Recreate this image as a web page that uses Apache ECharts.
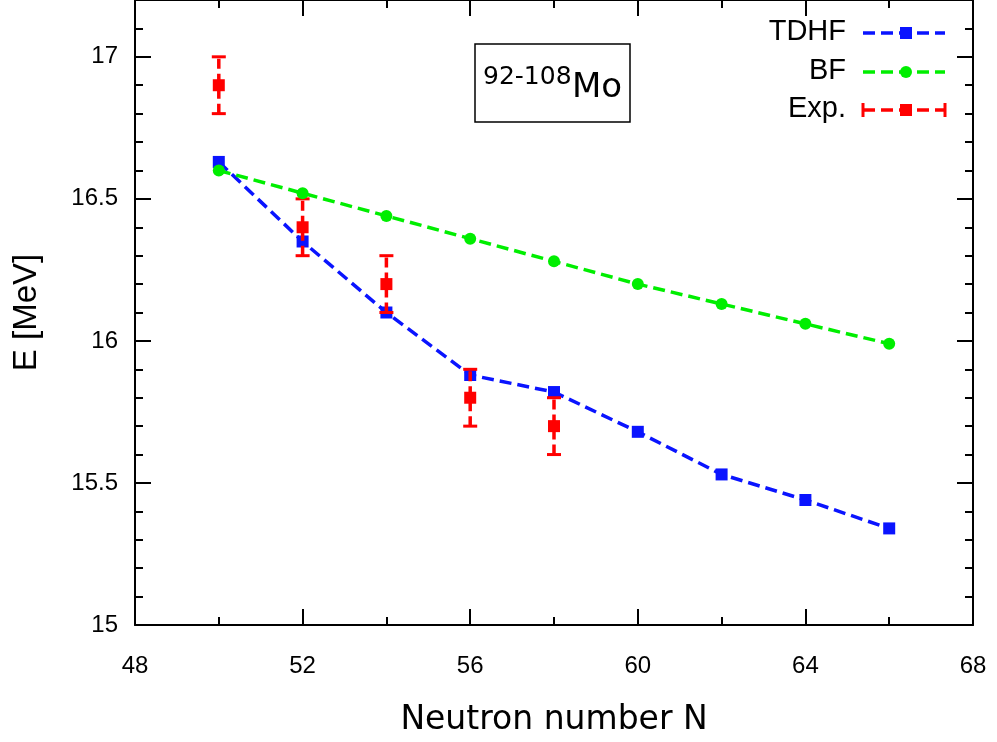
<!DOCTYPE html>
<html>
<head>
<meta charset="utf-8">
<script src="https://cdn.jsdelivr.net/npm/echarts@6/dist/echarts.min.js"></script>
<style>
html,body{margin:0;padding:0;background:#fff;}
#chart{width:997px;height:742px;}
</style>
</head>
<body>
<div id="chart"></div>
<script>
// ---- data ----
var neutronN = [50, 52, 54, 56, 58, 60, 62, 64, 66];
var tdhfE = [16.63, 16.35, 16.10, 15.88, 15.82, 15.68, 15.53, 15.44, 15.34];
var bfE = [16.60, 16.52, 16.44, 16.36, 16.28, 16.20, 16.13, 16.06, 15.99];
var expN = [50, 52, 54, 56, 58];
var expE = [16.9, 16.4, 16.2, 15.8, 15.7];
var expErr = [0.1, 0.1, 0.1, 0.1, 0.1];
var seriesNames = ['TDHF', 'BF', 'Exp.'];
var xTitle = 'Neutron number N';
var yTitle = 'E [MeV]';
var labelSup = '92-108';
var labelEl = 'Mo';

var BLUE = '#0a14ff', GREEN = '#00ee00', RED = '#ff0000';
var DASH = [12, 6];
var LW = 3.5;
var tickFont = 'Liberation Sans, Arial, sans-serif';

function pairs(xs, ys){ return xs.map(function(x,i){ return [x, ys[i]]; }); }
var expBars = expN.map(function(x,i){ return [x, expE[i]-expErr[i], expE[i]+expErr[i]]; });

var chart = echarts.init(document.getElementById('chart'), null, {renderer:'canvas'});

var axisLine = {show:true, lineStyle:{color:'#000', width:2}};
function xAx(pos, labels){
  return {
    type:'value', position:pos, min:48, max:68, interval:4,
    axisLine:axisLine,
    axisTick:{show:true, inside:true, length:16, lineStyle:{color:'#000', width:2}},
    minorTick:{show:true, splitNumber:2, length:8, lineStyle:{color:'#000', width:2}},
    splitLine:{show:false}, minorSplitLine:{show:false},
    axisLabel:{show:labels, margin:29, color:'#000', fontSize:24, fontFamily:tickFont},
    name: labels ? xTitle : '',
    nameLocation:'middle', nameGap:79,
    nameTextStyle:{color:'#000', fontSize:33, fontFamily:'DejaVu Sans'}
  };
}
function yMajor(pos, labels){
  return {
    type:'value', position:pos, min:15, max:17.2, interval:0.5,
    axisLine:axisLine,
    axisTick:{show:true, inside:true, length:16, lineStyle:{color:'#000', width:2}},
    splitLine:{show:false},
    axisLabel:{show:labels, margin:17, color:'#000', fontSize:24, fontFamily:tickFont, showMaxLabel:false},
    name: labels ? yTitle : '',
    nameLocation:'middle', nameGap:92,
    nameTextStyle:{color:'#000', fontSize:33, fontFamily:tickFont}
  };
}
function yMinor(pos){
  return {
    type:'value', position:pos, min:15, max:17.2, interval:0.1,
    axisLine:{show:false},
    axisTick:{show:true, inside:true, length:8, lineStyle:{color:'#000', width:2}},
    splitLine:{show:false},
    axisLabel:{show:false}
  };
}

var legendRows = [
  {name:seriesNames[0], y:33, color:BLUE, sym:'rect'},
  {name:seriesNames[1], y:72, color:GREEN, sym:'circle'},
  {name:seriesNames[2], y:110, color:RED, sym:'rect', caps:true}
];
var legendGraphics = [];
legendRows.forEach(function(r){
  legendGraphics.push({type:'text', right:997-846, top:r.y-16, z:100,
    style:{text:r.name, font:'29px Liberation Sans', fill:'#000', textAlign:'right'}});
  legendGraphics.push({type:'line', z:100, shape:{x1:863, y1:r.y, x2:945, y2:r.y},
    style:{stroke:r.color, lineWidth:LW, lineDash:DASH}});
  if (r.caps){
    legendGraphics.push({type:'line', z:100, shape:{x1:863, y1:r.y-7, x2:863, y2:r.y+7}, style:{stroke:r.color, lineWidth:3}});
    legendGraphics.push({type:'line', z:100, shape:{x1:945, y1:r.y-7, x2:945, y2:r.y+7}, style:{stroke:r.color, lineWidth:3}});
  }
  if (r.sym === 'rect'){
    legendGraphics.push({type:'rect', z:101, shape:{x:906-6, y:r.y-6, width:12, height:12}, style:{fill:r.color}});
  } else {
    legendGraphics.push({type:'circle', z:101, shape:{cx:906, cy:r.y, r:6}, style:{fill:r.color}});
  }
});

var option = {
  backgroundColor:'#fff',
  animation:false,
  grid:{left:135, right:24, top:-3, bottom:117, containLabel:false},
  xAxis:[xAx('bottom', true), xAx('top', false)],
  yAxis:[yMajor('left', true), yMajor('right', false), yMinor('left'), yMinor('right')],
  graphic: legendGraphics.concat([
    {type:'rect', z:100, shape:{x:475, y:44, width:155, height:78}, style:{fill:'#fff', stroke:'#000', lineWidth:1.5}},
    {type:'text', z:101, x:483, y:77, style:{text:labelSup, font:'25px DejaVu Sans', fill:'#000', textAlign:'left', textVerticalAlign:'middle'}},
    {type:'text', z:101, x:572, y:88, style:{text:labelEl, font:'34px DejaVu Sans', fill:'#000', textAlign:'left', textVerticalAlign:'middle'}}
  ]),
  series:[
    {name:seriesNames[0], type:'line', xAxisIndex:0, yAxisIndex:0, z:2,
     data:pairs(neutronN, tdhfE), symbol:'rect', symbolSize:12,
     itemStyle:{color:BLUE}, lineStyle:{color:BLUE, width:LW, type:DASH}},
    {name:seriesNames[2], type:'custom', xAxisIndex:0, yAxisIndex:0, z:3,
     data:expBars, encode:{x:0, y:[1,2]},
     renderItem:function(params, api){
       var x = api.value(0);
       var lo = api.coord([x, api.value(1)]);
       var hi = api.coord([x, api.value(2)]);
       var st = {stroke:RED, lineWidth:3};
       return {type:'group', children:[
         {type:'line', shape:{x1:lo[0], y1:lo[1], x2:hi[0], y2:hi[1]}, style:{stroke:RED, lineWidth:LW, lineDash:[10,5]}},
         {type:'line', shape:{x1:lo[0]-7, y1:lo[1], x2:lo[0]+7, y2:lo[1]}, style:st},
         {type:'line', shape:{x1:hi[0]-7, y1:hi[1], x2:hi[0]+7, y2:hi[1]}, style:st}
       ]};
     }},
    {name:seriesNames[2]+' pts', type:'scatter', xAxisIndex:0, yAxisIndex:0, z:3,
     data:pairs(expN, expE), symbol:'rect', symbolSize:12, itemStyle:{color:RED, opacity:1}},
    {name:seriesNames[1], type:'line', xAxisIndex:0, yAxisIndex:0, z:4,
     data:pairs(neutronN, bfE), symbol:'circle', symbolSize:12,
     itemStyle:{color:GREEN}, lineStyle:{color:GREEN, width:LW, type:DASH}}
  ]
};
chart.setOption(option);
</script>
</body>
</html>
